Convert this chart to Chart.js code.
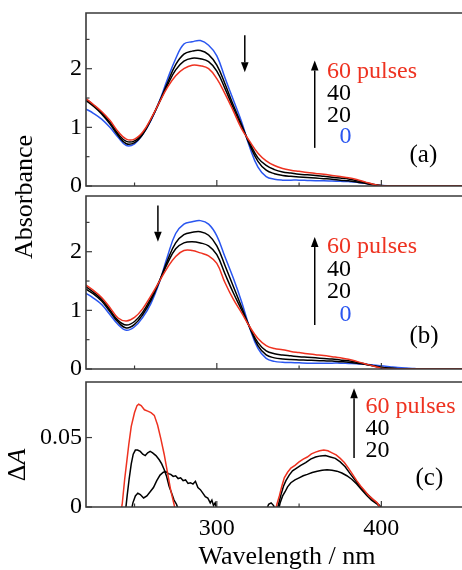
<!DOCTYPE html>
<html><head><meta charset="utf-8">
<script src="https://cdn.jsdelivr.net/npm/chart.js@4/dist/chart.umd.min.js"></script>
<style>
html,body{margin:0;padding:0;background:#fff;}
#root{position:relative;width:462px;height:570px;overflow:hidden;font-family:'Liberation Serif','Times New Roman',serif;}
canvas{position:absolute;left:0;}
.t{position:absolute;white-space:nowrap;font-size:24px;line-height:24px;color:#000;}
.lab{font-size:25px;line-height:25px;}
.red{color:#ee3220;} .blue{color:#2a56f0;}
.ttl{position:absolute;white-space:nowrap;font-size:26px;line-height:26px;text-align:center;width:200px;}
</style></head><body><div id="root">
<canvas id="ca" width="462" height="200" style="top:0"></canvas>
<canvas id="cb" width="462" height="190" style="top:190px"></canvas>
<canvas id="cc" width="462" height="195" style="top:375px"></canvas>

<div class="t red" style="left:327px;top:58px">60 pulses</div>
<div class="t" style="left:327px;top:80px">40</div>
<div class="t" style="left:327px;top:101.5px">20</div>
<div class="t blue" style="left:339.5px;top:123px">0</div>
<div class="t lab" style="left:409.5px;top:141px">(a)</div>

<div class="t red" style="left:327px;top:233px">60 pulses</div>
<div class="t" style="left:327px;top:255.5px">40</div>
<div class="t" style="left:327px;top:278px">20</div>
<div class="t blue" style="left:339.5px;top:300.5px">0</div>
<div class="t lab" style="left:409.5px;top:322px">(b)</div>

<div class="t red" style="left:365.5px;top:393px">60 pulses</div>
<div class="t" style="left:365.5px;top:415px">40</div>
<div class="t" style="left:365.5px;top:437px">20</div>
<div class="t lab" style="left:415.5px;top:464px">(c)</div>

<div class="ttl" style="left:-76px;top:183.5px;transform:rotate(-90deg)">Absorbance</div>
<div class="ttl" style="left:-83px;top:452px;transform:rotate(-90deg)">Δ<i>A</i></div>
<div class="ttl" style="left:187px;top:543px">Wavelength / nm</div>
</div>
<script>
// ---------- data ----------
const wavelengths = [220,225,230,235,240,245,250,255,260,265,270,275,280,285,290,295,300,305,310,315,320,325,330,335,340,345,350,355,360,365,370,375,380,385,390,395,400,405,410,415,420,425,430,435,440,445,450];

// panel (a)
const a0  = [1.32,1.24,1.14,1.00,0.83,0.69,0.72,0.88,1.12,1.44,1.82,2.17,2.42,2.46,2.48,2.40,2.22,1.84,1.47,1.10,0.66,0.32,0.16,0.115,0.10,0.10,0.10,0.095,0.09,0.09,0.085,0.08,0.075,0.065,0.045,0.02,0.008,0.004,0.002,0,0,0,0,0,0,0,0];
const a20 = [1.47,1.36,1.23,1.06,0.86,0.72,0.74,0.88,1.13,1.43,1.76,2.07,2.25,2.30,2.31,2.24,2.06,1.74,1.38,1.05,0.70,0.42,0.27,0.21,0.18,0.165,0.155,0.145,0.135,0.125,0.115,0.10,0.09,0.07,0.045,0.02,0.005,0.002,0,0,0,0,0,0,0,0,0];
const a40 = [1.49,1.38,1.25,1.09,0.89,0.76,0.77,0.90,1.14,1.42,1.72,1.98,2.13,2.18,2.17,2.12,1.96,1.66,1.33,1.02,0.73,0.48,0.35,0.28,0.24,0.22,0.20,0.19,0.18,0.165,0.15,0.135,0.12,0.09,0.06,0.03,0.008,0.002,0,0,0,0,0,0,0,0,0];
const a60 = [1.50,1.39,1.27,1.12,0.93,0.80,0.80,0.92,1.15,1.42,1.68,1.88,2.00,2.06,2.05,2.00,1.83,1.57,1.28,0.98,0.76,0.56,0.43,0.35,0.30,0.27,0.25,0.23,0.215,0.20,0.18,0.16,0.14,0.11,0.07,0.03,0.005,0,0,0,0,0,0,0,0,0,0];

// panel (b)
const b0  = [1.30,1.21,1.10,0.93,0.76,0.66,0.72,0.88,1.12,1.47,1.92,2.31,2.47,2.51,2.53,2.47,2.27,1.91,1.55,1.15,0.70,0.35,0.18,0.13,0.115,0.11,0.105,0.10,0.10,0.10,0.10,0.10,0.095,0.09,0.08,0.07,0.055,0.04,0.025,0.015,0.008,0.002,0,0,0,0,0];
const b20 = [1.37,1.28,1.16,0.98,0.80,0.70,0.76,0.93,1.17,1.49,1.85,2.15,2.29,2.33,2.34,2.28,2.10,1.76,1.41,1.06,0.71,0.40,0.24,0.19,0.17,0.16,0.155,0.15,0.145,0.14,0.135,0.125,0.115,0.10,0.08,0.055,0.03,0.015,0.005,0,0,0,0,0,0,0,0];
const b40 = [1.41,1.31,1.19,1.01,0.83,0.75,0.81,0.97,1.21,1.49,1.80,2.05,2.15,2.17,2.15,2.10,1.95,1.62,1.30,1.01,0.71,0.45,0.31,0.26,0.24,0.225,0.21,0.20,0.19,0.18,0.17,0.155,0.14,0.115,0.085,0.055,0.025,0.01,0,0,0,0,0,0,0,0,0];
const b60 = [1.44,1.34,1.22,1.05,0.87,0.82,0.88,1.03,1.25,1.49,1.73,1.92,2.02,2.02,1.98,1.93,1.80,1.47,1.19,0.96,0.72,0.52,0.40,0.35,0.33,0.30,0.28,0.26,0.245,0.23,0.21,0.19,0.165,0.13,0.09,0.05,0.015,0,0,0,0,0,0,0,0,0,0];

// panel (c) difference spectra (left and right bands)
const c60LeftWl  = [241.5,242.5,244,245,246.5,248,250,251.5,252.5,254,256,258,260,262,264,266,268,270,272,274,275];
const c60Left    = [-0.005,0.002,0.02,0.03,0.045,0.058,0.068,0.073,0.074,0.073,0.070,0.069,0.068,0.066,0.059,0.049,0.038,0.025,0.012,0.002,-0.004];
const c40LeftWl  = [244.5,245.5,246.7,248,249.2,250.5,251.8,253.5,255,256.5,258,259.5,261,263,265,266.5,268,269.5,271,272.5,274,275.5,277];
const c40Left    = [-0.003,0.008,0.02,0.031,0.038,0.041,0.041,0.040,0.038,0.037,0.039,0.040,0.039,0.037,0.034,0.031,0.027,0.022,0.015,0.010,0.005,0.002,-0.003];
const c20LeftWl  = [248,249,250.5,252,253.5,255.5,257.5,259.5,261.5,263.5,265.5,267.5,269,270.5,272,273.5,275,276.5,278,279.5,281,282.5,284,285.5,287,288.5,290,291.5,293,294.5,296,297,298,299,300];
const c20Left    = [-0.003,0.003,0.008,0.010,0.009,0.0065,0.008,0.011,0.014,0.019,0.023,0.025,0.0255,0.024,0.0235,0.022,0.0225,0.0205,0.021,0.019,0.0195,0.017,0.0175,0.0165,0.0185,0.014,0.0125,0.010,0.0075,0.0065,0.003,0.005,0.001,0.003,-0.002];
const c60RightWl = [335.5,336.5,338,339.5,341,343,345,347.5,350,352.5,355,357.5,360,362.5,365,367.5,370,372.5,375,377.5,380,382.5,385,387.5,390,392.5,395,397.5,400];
const c60Right   = [-0.003,0.002,0.008,0.015,0.021,0.025,0.028,0.030,0.0325,0.0345,0.036,0.0383,0.0395,0.0405,0.041,0.0405,0.039,0.0375,0.035,0.032,0.028,0.0235,0.019,0.015,0.0115,0.008,0.0055,0.003,-0.002];
const c40RightWl = [336.5,337.5,339,340.5,342,344,346,348.5,351,354,357,360,363,366,369,372,375,378,381,384,387,390,393,396,399,400.5];
const c40Right   = [-0.003,0.002,0.009,0.015,0.019,0.023,0.026,0.028,0.030,0.032,0.0345,0.036,0.0368,0.037,0.036,0.035,0.0325,0.029,0.024,0.0195,0.015,0.011,0.0075,0.004,0.001,-0.002];
const c20RightWl = [330.5,331.5,333,334.5,335.5,337.5,338.5,340,341.5,343,345,347.5,350,352.5,355,358,361,364,367,370,373,376,379,382,385,388,391,394,397,400];
const c20Right   = [-0.001,0.002,0.003,0.001,-0.002,-0.002,0.003,0.008,0.011,0.0145,0.0175,0.0195,0.021,0.0225,0.0235,0.0248,0.0258,0.0265,0.0268,0.0265,0.0258,0.0245,0.0225,0.020,0.0165,0.0125,0.0085,0.005,0.0025,-0.001];

// ticks
const xTickLabels = [300, 400];
const xMinorTicks = [250, 350];
const yTickLabelsAbs = [0, 1, 2];
const yMinorTicksAbs = [0.5, 1.5, 2.5];
const yTickLabelsDA = [0, 0.05];

// ---------- drawing ----------
const RED = '#ee3220', BLUE = '#2a56f0', BLACK = '#000';
const FONT = {family: "'Liberation Serif','Times New Roman',serif", size: 24};

function series(vals){ return wavelengths.map((x,i)=>({x, y: vals[i]})); }
function pts(xs, ys){ return xs.map((x,i)=>({x, y: ys[i]})); }

const framePlugin = {
  id: 'frame',
  afterDatasetsDraw(chart, args, o){
    const {ctx, chartArea: a, scales: {x, y}} = chart;
    ctx.save();
    ctx.strokeStyle = '#3a3a3a'; ctx.lineWidth = 1.6;
    ctx.beginPath();
    ctx.moveTo(a.right + 5, a.top); ctx.lineTo(a.left, a.top);
    ctx.lineTo(a.left, a.bottom); ctx.lineTo(a.right + 5, a.bottom);
    ctx.stroke();
    ctx.lineWidth = 1.2;
    const seg = (x1,y1,x2,y2)=>{ctx.beginPath();ctx.moveTo(x1,y1);ctx.lineTo(x2,y2);ctx.stroke();};
    (o.xMajor||[]).forEach(v=>{const p=x.getPixelForValue(v); seg(p,a.bottom,p,a.bottom-6);});
    (o.xMinor||[]).forEach(v=>{const p=x.getPixelForValue(v); seg(p,a.bottom,p,a.bottom-3.5);});
    (o.yMajor||[]).forEach(v=>{const p=y.getPixelForValue(v); seg(a.left,p,a.left+6,p);});
    (o.yMinor||[]).forEach(v=>{const p=y.getPixelForValue(v); seg(a.left,p,a.left+3.5,p);});
    ctx.strokeStyle = '#000'; ctx.fillStyle = '#000'; ctx.lineWidth = 1.5;
    (o.arrows||[]).forEach(ar=>{
      const px = x.getPixelForValue(ar.x), y0 = y.getPixelForValue(ar.from), y1 = y.getPixelForValue(ar.to);
      const dir = y1 > y0 ? 1 : -1, hl = 10, hw = 3.8;
      seg(px, y0, px, y1 - dir*hl);
      ctx.beginPath(); ctx.moveTo(px, y1); ctx.lineTo(px-hw, y1-dir*hl); ctx.lineTo(px+hw, y1-dir*hl); ctx.closePath(); ctx.fill();
    });
    ctx.restore();
  }
};

function makeChart(id, datasets, yMax, yTicks, frame, padding, xHeight, showX, tension){
  return new Chart(document.getElementById(id), {
    type: 'line',
    data: {datasets},
    options: {
      responsive: false, animation: false, devicePixelRatio: 1,
      layout: {padding},
      plugins: {legend: {display: false}, tooltip: {enabled: false}, frame},
      elements: {point: {radius: 0}, line: {borderWidth: 1.5, tension, capBezierPoints: true}},
      scales: {
        x: {type: 'linear', min: 220.5, max: 449, grid: {display: false, drawTicks: false}, border: {display: false},
            ticks: {display: showX, font: FONT, color: '#000', padding: 7, maxRotation: 0, callback: v => String(v)},
            afterBuildTicks: s => { s.ticks = xTickLabels.map(v => ({value: v})); },
            afterFit: s => { s.height = xHeight; s.paddingLeft = 0; s.paddingRight = 0; }},
        y: {type: 'linear', min: 0, max: yMax, grid: {display: false, drawTicks: false}, border: {display: false},
            ticks: {font: FONT, color: '#000', padding: 4, callback: v => String(v)},
            afterBuildTicks: s => { s.ticks = yTicks.map(v => ({value: v})); },
            afterFit: s => { s.width = 86; s.paddingTop = 0; s.paddingBottom = 0; }}
      }
    },
    plugins: [framePlugin]
  });
}

const ds = (data, color) => ({data, borderColor: color, backgroundColor: color, fill: false, spanGaps: false});

makeChart('ca',
  [ds(series(a60), RED), ds(series(a40), BLACK), ds(series(a20), BLACK), ds(series(a0), BLUE)],
  2.95, yTickLabelsAbs,
  {xMajor: xTickLabels, xMinor: xMinorTicks, yMajor: yTickLabelsAbs, yMinor: yMinorTicksAbs,
   arrows: [{x: 317, from: 2.57, to: 1.94}, {x: 359.5, from: 0.65, to: 2.14}]},
  {top: 13, bottom: 14, left: 0, right: 0}, 0, false, 0.4);

makeChart('cb',
  [ds(series(b60), RED), ds(series(b40), BLACK), ds(series(b20), BLACK), ds(series(b0), BLUE)],
  2.95, yTickLabelsAbs,
  {xMajor: xTickLabels, xMinor: xMinorTicks, yMajor: yTickLabelsAbs, yMinor: yMinorTicksAbs,
   arrows: [{x: 264.2, from: 2.79, to: 2.17}, {x: 359.5, from: 0.75, to: 2.25}]},
  {top: 6, bottom: 11, left: 0, right: 0}, 0, false, 0.4);

makeChart('cc',
  [ds(pts(c60LeftWl, c60Left), RED), ds(pts(c60RightWl, c60Right), RED),
   ds(pts(c40LeftWl, c40Left), BLACK), ds(pts(c40RightWl, c40Right), BLACK),
   ds(pts(c20LeftWl, c20Left), BLACK), ds(pts(c20RightWl, c20Right), BLACK)],
  0.09, yTickLabelsDA,
  {xMajor: xTickLabels, xMinor: xMinorTicks, yMajor: yTickLabelsDA, yMinor: [],
   arrows: [{x: 383.4, from: 0.0352, to: 0.0855}]},
  {top: 7, bottom: 0, left: 0, right: 0}, 63, true, 0);
</script>
</body></html>
